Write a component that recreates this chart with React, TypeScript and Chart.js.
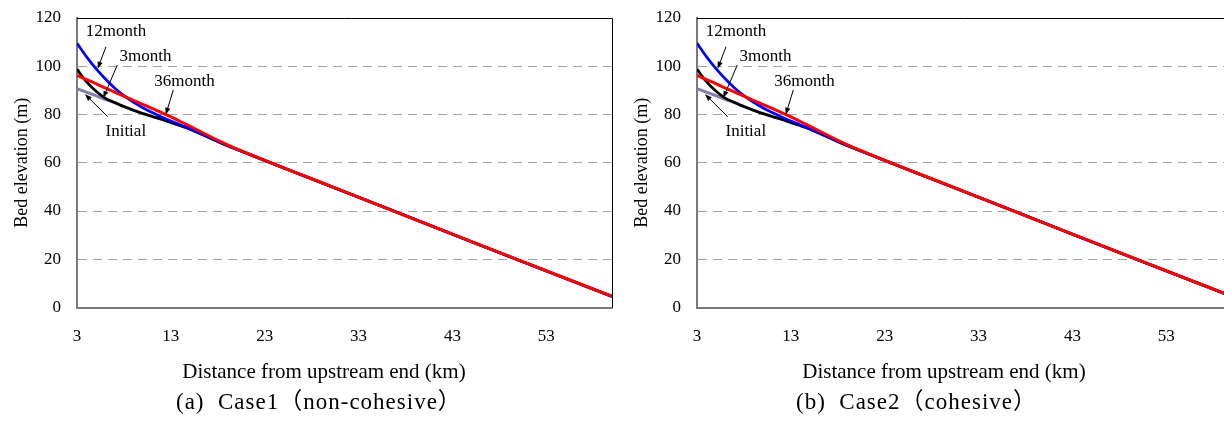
import React, { useEffect, useRef } from "react";
import { Chart, registerables } from "chart.js";

Chart.register(...registerables);

// ---- data ----
const distanceKm = [3, 4, 5, 6, 7, 8, 9, 10, 11, 12, 13, 14, 15, 16, 18, 20, 30, 40, 50, 60];
const initialM = [90.7, 89.3, 87.8, 86.3, 84.9, 83.3, 81.8, 80.4, 79.2, 78.0, 76.7, 75.4, 74.0, 72.3, 68.8, 65.6, 50.3, 35.0, 19.7, 4.6];
const month3M = [98.8, 93.6, 89.7, 86.8, 85.0, 83.3, 81.8, 80.4, 79.2, 78.0, 76.7, 75.4, 74.0, 72.3, 68.8, 65.6, 50.3, 35.0, 19.7, 4.6];
const month12M = [109.5, 104.0, 99.1, 94.8, 91.0, 87.8, 85.1, 82.8, 80.8, 79.0, 77.3, 75.7, 74.1, 72.4, 68.9, 65.6, 50.3, 35.0, 19.7, 4.6];
const month36M = [96.2, 94.5, 92.8, 91.0, 89.3, 87.6, 85.9, 84.2, 82.5, 80.8, 79.0, 77.1, 75.2, 73.2, 69.3, 65.8, 50.3, 35.0, 19.7, 4.6];

const xTickValues = [3, 13, 23, 33, 43, 53];
const yTickStep = 20;
const xMin = 3;
const xMax = 60;
const yMin = 0;
const yMax = 120;

// annotation labels with arrows (data units)
const noteLabels = ["12month", "3month", "36month", "Initial"];
const noteTextKm = [7.15, 10.3, 14.45, 8.2];
const noteTextM = [114.3, 104.0, 93.6, 72.9];
const arrowTailKm = [6.09, 7.29, 13.26, 6.27];
const arrowTailM = [108.1, 100.5, 90.2, 79.1];
const arrowHeadKm = [5.2, 5.8, 12.45, 3.85];
const arrowHeadM = [99.0, 86.9, 79.9, 88.4];

const captions = ["(a)  Case1（non-cohesive）", "(b)  Case2（cohesive）"];
const xTitle = "Distance from upstream end (km)";
const yTitle = "Bed elevation (m)";

const SERIF = '"Liberation Serif", "Times New Roman", serif';
const CAPTION_FONT = '"Liberation Serif", "Noto Sans CJK JP", serif';

const W = 620;
const H = 421;
const PLOT_TOP = 18;
const PLOT_BOTTOM = 307.5;
const PLOT_LEFT = 77;

function pts(vals: number[]) {
  return distanceKm.map((d, i) => ({ x: d, y: vals[i] }));
}

const notesPlugin = {
  id: "notesPlugin",
  afterDatasetsDraw(chart: any) {
    const { ctx, chartArea, scales } = chart;
    const xs = scales.x;
    const ys = scales.y;
    ctx.save();
    // top and right frame
    ctx.strokeStyle = "#000";
    ctx.lineWidth = 1;
    ctx.beginPath();
    ctx.moveTo(chartArea.left, chartArea.top + 0.5);
    ctx.lineTo(chartArea.right + 0.5, chartArea.top + 0.5);
    ctx.lineTo(chartArea.right + 0.5, chartArea.bottom);
    ctx.stroke();

    ctx.font = `17px ${SERIF}`;
    ctx.fillStyle = "#000";
    ctx.textAlign = "center";
    ctx.textBaseline = "middle";
    for (let i = 0; i < noteLabels.length; i++) {
      const tx = xs.getPixelForValue(noteTextKm[i]);
      const ty = ys.getPixelForValue(noteTextM[i]);
      ctx.fillText(noteLabels[i], tx, ty);
      const x1 = xs.getPixelForValue(arrowTailKm[i]);
      const y1 = ys.getPixelForValue(arrowTailM[i]);
      const x2 = xs.getPixelForValue(arrowHeadKm[i]);
      const y2 = ys.getPixelForValue(arrowHeadM[i]);
      const ang = Math.atan2(y2 - y1, x2 - x1);
      const len = 7;
      const half = 2.6;
      const bx = x2 - len * Math.cos(ang);
      const by = y2 - len * Math.sin(ang);
      ctx.strokeStyle = "#000";
      ctx.lineWidth = 1;
      ctx.beginPath();
      ctx.moveTo(x1, y1);
      ctx.lineTo(bx, by);
      ctx.stroke();
      ctx.beginPath();
      ctx.moveTo(x2, y2);
      ctx.lineTo(bx + half * Math.sin(ang), by - half * Math.cos(ang));
      ctx.lineTo(bx - half * Math.sin(ang), by + half * Math.cos(ang));
      ctx.closePath();
      ctx.fill();
    }
    ctx.restore();
  },
};

function Panel({ left, caption }: { left: number; caption: string }) {
  const ref = useRef<HTMLCanvasElement>(null);
  useEffect(() => {
    const chart = new Chart(ref.current as HTMLCanvasElement, {
      type: "line",
      data: {
        datasets: [
          { label: "36month", data: pts(month36M), borderColor: "#ff0000", borderWidth: 3 },
          { label: "12month", data: pts(month12M), borderColor: "#0000ff", borderWidth: 2.7 },
          { label: "3month", data: pts(month3M), borderColor: "#000000", borderWidth: 2.7 },
          { label: "Initial", data: pts(initialM), borderColor: "#8080b0", borderWidth: 3 },
        ].map((d) => ({ ...d, pointRadius: 0, fill: false, cubicInterpolationMode: "monotone" as const })),
      },
      options: {
        responsive: false,
        animation: false,
        devicePixelRatio: 1,
        layout: { padding: { top: PLOT_TOP, right: 8, left: 0, bottom: 0 } },
        plugins: { legend: { display: false }, tooltip: { enabled: false } },
        scales: {
          x: {
            type: "linear",
            min: xMin,
            max: xMax,
            afterBuildTicks: (scale: any) => {
              scale.ticks = xTickValues.map((v) => ({ value: v }));
            },
            afterFit: (scale: any) => {
              scale.height = H - PLOT_BOTTOM;
              scale.paddingLeft = 0;
              scale.paddingRight = 0;
            },
            grid: { display: false, drawTicks: false },
            border: { display: true, color: "#7a7a7a", width: 2 },
            ticks: {
              autoSkip: false,
              maxRotation: 0,
              padding: 19,
              color: "#000",
              font: { family: SERIF, size: 17 },
            },
          },
          y: {
            min: yMin,
            max: yMax,
            afterFit: (scale: any) => {
              scale.width = PLOT_LEFT;
              scale.paddingTop = 0;
              scale.paddingBottom = 0;
            },
            grid: {
              drawTicks: false,
              lineWidth: 1,
              color: (c: any) =>
                c.tick && (c.tick.value === yMin || c.tick.value === yMax) ? "rgba(0,0,0,0)" : "#a3a3a3",
            },
            border: { display: true, color: "#7a7a7a", width: 2, dash: [9, 6] },
            ticks: {
              stepSize: yTickStep,
              padding: 16,
              color: "#000",
              font: { family: SERIF, size: 17 },
            },
            title: {
              display: true,
              text: yTitle,
              color: "#000",
              font: { family: SERIF, size: 18, weight: "normal" },
              padding: { top: 11, bottom: 0 },
            },
          },
        },
      },
      plugins: [notesPlugin],
    } as any);
    return () => chart.destroy();
  }, []);
  return (
    <div style={{ position: "absolute", left, top: 0, width: W, height: H }}>
      <canvas ref={ref} width={W} height={H} style={{ position: "absolute", left: 0, top: 0, width: W, height: H }} />
      <div
        style={{
          position: "absolute",
          left: 124,
          width: 400,
          top: 359,
          textAlign: "center",
          fontFamily: SERIF,
          fontSize: 21,
          lineHeight: "24px",
          whiteSpace: "nowrap",
          color: "#000",
        }}
      >
        {xTitle}
      </div>
      <div
        style={{
          position: "absolute",
          left: 176,
          top: 388,
          fontFamily: CAPTION_FONT,
          fontSize: 23,
          letterSpacing: "1px",
          lineHeight: "28px",
          whiteSpace: "pre",
          color: "#000",
        }}
      >
        {caption}
      </div>
    </div>
  );
}

export default function App() {
  return (
    <div
      style={{
        position: "fixed",
        left: 0,
        top: 0,
        width: 1224,
        height: 421,
        overflow: "hidden",
        background: "#fff",
      }}
    >
      <Panel left={0} caption={captions[0]} />
      <Panel left={620} caption={captions[1]} />
    </div>
  );
}
